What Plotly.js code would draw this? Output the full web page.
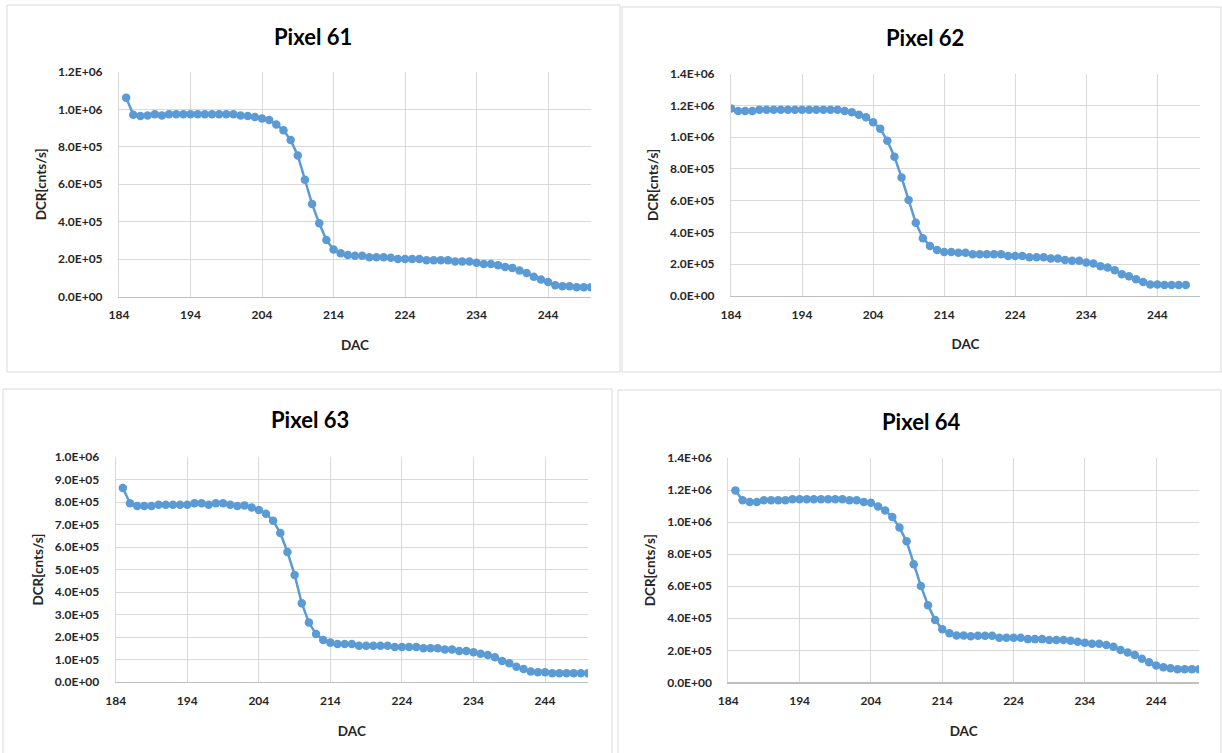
<!DOCTYPE html>
<html>
<head>
<meta charset="utf-8">
<script src="https://cdn.plot.ly/plotly-3.0.1.min.js"></script>
<style>
  html, body { margin: 0; padding: 0; background: #ffffff; }
  #chart { width: 1222px; height: 753px; }
</style>
</head>
<body>
<div id="chart"></div>
<script>
// ---------------- DATA ----------------
const titles = ["Pixel 61", "Pixel 62", "Pixel 63", "Pixel 64"];
const xTitle = "DAC";
const yTitle = "DCR[cnts/s]";

const xTickVals = [184, 194, 204, 214, 224, 234, 244];
const xTickText = ["184", "194", "204", "214", "224", "234", "244"];

const yTickVals61 = [0, 200000, 400000, 600000, 800000, 1000000, 1200000];
const yTickText61 = ["0.0E+00", "2.0E+05", "4.0E+05", "6.0E+05", "8.0E+05", "1.0E+06", "1.2E+06"];
const yTickVals62 = [0, 200000, 400000, 600000, 800000, 1000000, 1200000, 1400000];
const yTickText62 = ["0.0E+00", "2.0E+05", "4.0E+05", "6.0E+05", "8.0E+05", "1.0E+06", "1.2E+06", "1.4E+06"];
const yTickVals63 = [0, 100000, 200000, 300000, 400000, 500000, 600000, 700000, 800000, 900000, 1000000];
const yTickText63 = ["0.0E+00", "1.0E+05", "2.0E+05", "3.0E+05", "4.0E+05", "5.0E+05", "6.0E+05", "7.0E+05", "8.0E+05", "9.0E+05", "1.0E+06"];
const yTickVals64 = yTickVals62;
const yTickText64 = yTickText62;

const dac61 = [185,186,187,188,189,190,191,192,193,194,195,196,197,198,199,200,201,202,203,204,205,206,207,208,209,210,211,212,213,214,215,216,217,218,219,220,221,222,223,224,225,226,227,228,229,230,231,232,233,234,235,236,237,238,239,240,241,242,243,244,245,246,247,248,249,250];
const dcr61 = [1063000,971000,965000,967000,974000,967000,974000,974000,974000,974000,974000,974000,974000,974000,974000,974000,967000,965000,960000,951000,944000,919000,889000,836000,754000,624000,494000,391000,302000,251000,231000,222000,218000,218000,210000,210000,210000,207000,201000,201000,201000,201000,194000,194000,194000,194000,187000,187000,187000,180000,174000,174000,167000,158000,153000,139000,126000,105000,91000,78000,60000,55000,55000,50000,50000,50000];

const dac62 = [184,185,186,187,188,189,190,191,192,193,194,195,196,197,198,199,200,201,202,203,204,205,206,207,208,209,210,211,212,213,214,215,216,217,218,219,220,221,222,223,224,225,226,227,228,229,230,231,232,233,234,235,236,237,238,239,240,241,242,243,244,245,246,247,248];
const dcr62 = [1182000,1165000,1165000,1165000,1174000,1174000,1174000,1174000,1174000,1174000,1174000,1174000,1174000,1174000,1174000,1174000,1165000,1157000,1142000,1126000,1094000,1054000,978000,877000,747000,604000,461000,364000,315000,290000,276000,276000,272000,272000,262000,262000,262000,262000,262000,252000,252000,252000,244000,244000,244000,236000,236000,227000,221000,221000,210000,204000,187000,179000,162000,137000,124000,105000,88000,72000,72000,68000,68000,68000,68000];

const dac63 = [185,186,187,188,189,190,191,192,193,194,195,196,197,198,199,200,201,202,203,204,205,206,207,208,209,210,211,212,213,214,215,216,217,218,219,220,221,222,223,224,225,226,227,228,229,230,231,232,233,234,235,236,237,238,239,240,241,242,243,244,245,246,247,248,249,250];
const dcr63 = [862000,794000,782000,782000,782000,788000,788000,788000,788000,788000,794000,794000,788000,794000,794000,788000,782000,785000,776000,764000,748000,717000,662000,578000,476000,350000,264000,213000,187000,175000,169000,169000,169000,161000,161000,161000,161000,161000,156000,156000,156000,156000,150000,150000,150000,144000,144000,138000,138000,132000,126000,120000,110000,93000,83000,68000,58000,47000,43000,43000,39000,39000,39000,39000,39000,39000];

const dac64 = [185,186,187,188,189,190,191,192,193,194,195,196,197,198,199,200,201,202,203,204,205,206,207,208,209,210,211,212,213,214,215,216,217,218,219,220,221,222,223,224,225,226,227,228,229,230,231,232,233,234,235,236,237,238,239,240,241,242,243,244,245,246,247,248,249,250];
const dcr64 = [1198000,1136000,1125000,1125000,1136000,1136000,1136000,1136000,1142000,1142000,1142000,1142000,1142000,1142000,1142000,1142000,1136000,1136000,1125000,1121000,1098000,1073000,1032000,966000,880000,737000,602000,482000,389000,331000,306000,293000,293000,288000,291000,291000,291000,278000,278000,278000,278000,270000,270000,270000,264000,264000,264000,260000,253000,247000,241000,241000,233000,222000,202000,187000,171000,148000,125000,106000,94000,88000,82000,82000,82000,82000];

// ---------------- LAYOUT (pixel geometry) ----------------
const W = 1222, H = 753;
const panels = [
  { x: dac61, y: dcr61, ymax: 1200000, tv: yTickVals61, tt: yTickText61, plot: [119, 72, 591, 296.5], box: [7, 5, 620, 372], title: [313, 37] },
  { x: dac62, y: dcr62, ymax: 1400000, tv: yTickVals62, tt: yTickText62, plot: [731, 73.8, 1200, 295.9], box: [622, 7, 1221, 372], title: [925, 38] },
  { x: dac63, y: dcr63, ymax: 1000000, tv: yTickVals63, tt: yTickText63, plot: [115.7, 457, 588, 682], box: [3, 389, 612, 760], title: [310, 420] },
  { x: dac64, y: dcr64, ymax: 1400000, tv: yTickVals64, tt: yTickText64, plot: [728.3, 458, 1199, 682.4], box: [618, 390, 1221, 760], title: [921, 422] }
];

const blue = '#5B9BD5';
const fam = 'Lato, "Open Sans", sans-serif';
const tickFont = { family: fam, size: 12, color: '#262626', weight: 'bold' };
const axTitleFont = { family: fam, size: 13.5, color: '#262626', weight: 'bold' };

const data = [];
const layout = {
  width: W, height: H,
  margin: { l: 0, r: 0, t: 0, b: 0 },
  paper_bgcolor: '#ffffff',
  plot_bgcolor: 'rgba(0,0,0,0)',
  showlegend: false,
  shapes: [],
  annotations: []
};

panels.forEach((p, i) => {
  const n = i === 0 ? '' : String(i + 1);
  const xa = 'xaxis' + n, ya = 'yaxis' + n;
  data.push({
    type: 'scatter', mode: 'lines+markers',
    x: p.x, y: p.y,
    xaxis: 'x' + n, yaxis: 'y' + n,
    line: { color: blue, width: 2.5 },
    marker: { color: blue, size: 8.5 },
    hoverinfo: 'x+y'
  });
  const [l, t, r, b] = p.plot;
  layout[xa] = {
    domain: [l / W, r / W],
    anchor: 'y' + n,
    range: [184, 250],
    tickvals: xTickVals, ticktext: xTickText,
    showgrid: true, gridcolor: '#d9d9d9', gridwidth: 1,
    zeroline: false,
    showline: true, linecolor: '#bfbfbf', linewidth: 1.3,
    ticks: '', ticklabelstandoff: 7,
    tickfont: tickFont,
    title: { text: xTitle, font: axTitleFont, standoff: 19 },
    fixedrange: true
  };
  layout[ya] = {
    domain: [1 - b / H, 1 - t / H],
    anchor: 'x' + n,
    range: [0, p.ymax],
    tickvals: p.tv, ticktext: p.tt,
    showgrid: true, gridcolor: '#d9d9d9', gridwidth: 1,
    zeroline: false,
    showline: true, linecolor: '#d9d9d9', linewidth: 1,
    ticks: '', ticklabelstandoff: 13,
    tickfont: tickFont,
    title: { text: yTitle, font: axTitleFont, standoff: 8 },
    fixedrange: true
  };
  const [bx0, by0, bx1, by1] = p.box;
  layout.shapes.push({
    type: 'rect', xref: 'paper', yref: 'paper', layer: 'below',
    x0: bx0 / W, x1: bx1 / W, y0: 1 - by1 / H, y1: 1 - by0 / H,
    line: { color: '#d9d9d9', width: 1 }, fillcolor: '#ffffff'
  });
  layout.annotations.push({
    xref: 'paper', yref: 'paper',
    x: p.title[0] / W, y: 1 - p.title[1] / H,
    xanchor: 'center', yanchor: 'middle',
    text: titles[i], showarrow: false,
    font: { family: fam, size: 22, color: '#000000', weight: 'bold' }
  });
});

Plotly.newPlot('chart', data, layout, { displayModeBar: false, staticPlot: true });
</script>
</body>
</html>
